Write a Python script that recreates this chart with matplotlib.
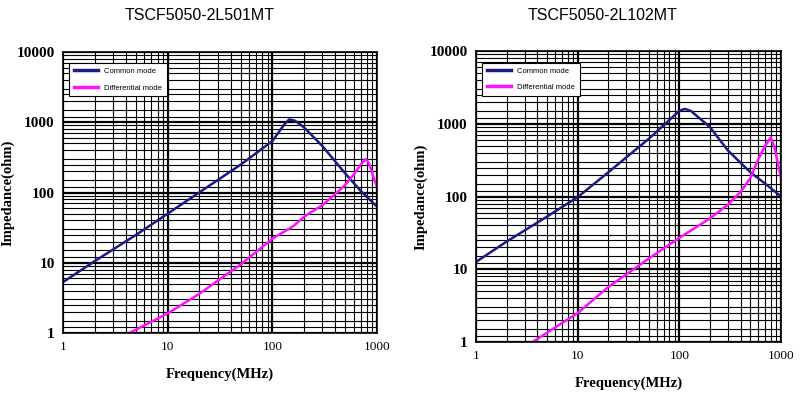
import matplotlib
matplotlib.use("Agg")
from matplotlib import pyplot as plt
from matplotlib.ticker import LogLocator, NullFormatter, FixedLocator, FixedFormatter

# TSCF5050-2L501MT
freq_cm_501 = [1, 2, 5, 10, 20, 50, 100, 130, 145, 165, 200, 300, 500, 700, 1000]
imp_cm_501 = [5.3, 10.5, 25, 50, 100, 250, 540, 930, 1100, 1050, 850, 460, 185, 105, 63]
freq_dm_501 = [4.3, 10, 20, 50, 100, 158, 200, 300, 400, 500, 600, 700, 780, 850, 920, 1000]
imp_dm_501 = [1, 1.9, 3.6, 9.5, 22, 33, 45, 66, 95, 130, 180, 250, 300, 250, 170, 120]

# TSCF5050-2L102MT
freq_cm_102 = [1, 2, 5, 10, 20, 50, 100, 113, 130, 200, 300, 500, 700, 1000]
imp_cm_102 = [12.6, 24, 53, 98, 215, 620, 1500, 1600, 1500, 900, 430, 215, 150, 100]
freq_dm_102 = [3.6, 10, 20, 50, 100, 200, 300, 400, 500, 600, 700, 795, 870, 1000]
imp_dm_102 = [1, 2.5, 5.7, 14, 27, 50, 77, 115, 180, 330, 500, 650, 450, 180]

titles = ["TSCF5050-2L501MT", "TSCF5050-2L102MT"]
x_ticks = [1, 10, 100, 1000]
y_ticks = [1, 10, 100, 1000, 10000]

BLUE = "#1c1c86"
PINK = "#ff10ff"
SERIF = "Liberation Serif"

fig = plt.figure(figsize=(8.04, 4.03), dpi=100)

panels = [
    ([63 / 804, 70 / 403, 314 / 804, 281 / 403], freq_cm_501, imp_cm_501, freq_dm_501, imp_dm_501, 200, -0.155),
    ([476 / 804, 61 / 403, 305 / 804, 291 / 403], freq_cm_102, imp_cm_102, freq_dm_102, imp_dm_102, 603, -0.16),
]

for i, (rect, fc, zc, fd, zd, title_x, ylab_x) in enumerate(panels):
    ax = fig.add_axes(rect)
    ax.set_xscale("log")
    ax.set_yscale("log")
    ax.set_xlim(1, 1000)
    ax.set_ylim(1, 10000)

    ax.xaxis.set_major_locator(FixedLocator(x_ticks))
    ax.xaxis.set_major_formatter(FixedFormatter([str(t) for t in x_ticks]))
    ax.yaxis.set_major_locator(FixedLocator(y_ticks))
    ax.yaxis.set_major_formatter(FixedFormatter([str(t) for t in y_ticks]))
    ax.xaxis.set_minor_locator(LogLocator(base=10, subs=range(2, 10)))
    ax.yaxis.set_minor_locator(LogLocator(base=10, subs=[1.2, 1.5, 2, 2.5, 3, 4, 5, 6, 7, 8, 9]))
    ax.xaxis.set_minor_formatter(NullFormatter())
    ax.yaxis.set_minor_formatter(NullFormatter())

    ax.grid(which="major", color="black", linewidth=1.6)
    ax.grid(which="minor", color="black", linewidth=0.8)
    ax.set_axisbelow(True)
    ax.tick_params(which="both", length=0, pad=6)

    for lab in ax.get_xticklabels():
        lab.set_fontfamily(SERIF)
        lab.set_fontsize(9.5)
    for lab in ax.get_yticklabels():
        lab.set_fontfamily(SERIF)
        lab.set_fontsize(11)
        lab.set_fontweight("bold")

    for sp in ax.spines.values():
        sp.set_color("black")
        sp.set_linewidth(1.2)

    ax.plot(fc, zc, color=BLUE, linewidth=1.8, label="Common mode")
    ax.plot(fd, zd, color=PINK, linewidth=1.8, label="Differential mode")

    leg = ax.legend(loc="upper left", bbox_to_anchor=(0.02, 0.96), fancybox=False,
                    framealpha=1, edgecolor="black", prop={"family": "Liberation Sans", "size": 5.5},
                    handlelength=3.2, labelspacing=1.2, borderpad=0.6, borderaxespad=0)
    leg.get_frame().set_linewidth(0.8)
    for line in leg.get_lines():
        line.set_linewidth(2.5)

    ax.set_xlabel("Frequency(MHz)", fontfamily=SERIF, fontweight="bold", fontsize=10.5, labelpad=10)
    ax.set_ylabel("Impedance(ohm)", fontfamily=SERIF, fontweight="bold", fontsize=10.5)
    ax.yaxis.set_label_coords(ylab_x, 0.5)

    fig.text(title_x / 804, 1 - 16 / 403, titles[i], ha="center", va="center",
             fontfamily="Liberation Sans", fontsize=11.5)

fig.savefig("out.png", dpi=100)
